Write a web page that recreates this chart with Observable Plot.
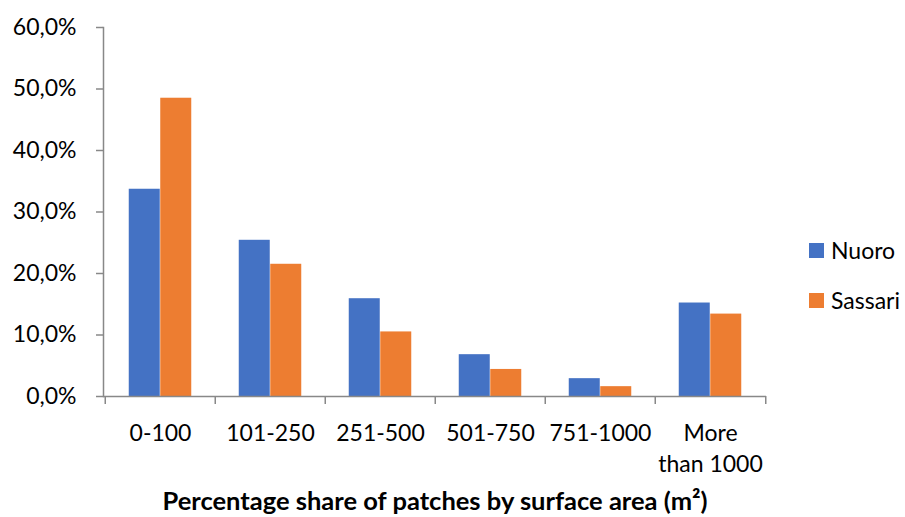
<!DOCTYPE html>
<html><head><meta charset="utf-8">
<script src="https://cdn.jsdelivr.net/npm/d3@7"></script>
<script src="https://cdn.jsdelivr.net/npm/@observablehq/plot@0.6"></script>
<style>
body{margin:0;background:#fff;}
#chart{position:relative;width:905px;height:517px;font-family:Lato,sans-serif;}
#legend{position:absolute;left:809px;top:236px;}
#legend .lg-swatch{margin-bottom:21px;}
#legend .lg-swatch svg{margin-right:7px !important;}
</style></head><body><div id="chart"><div id="legend"></div></div>
<script>
const categories = ["0-100","101-250","251-500","501-750","751-1000","More than 1000"];
const categoryLabels = ["0-100","101-250","251-500","501-750","751-1000","More\nthan 1000"];
const series = ["Nuoro","Sassari"];
const nuoro = [33.7,25.4,15.9,6.8,2.9,15.2];
const sassari = [48.5,21.5,10.5,4.4,1.6,13.4];
const yTicks = [0,10,20,30,40,50,60];
const xTitle = "Percentage share of patches by surface area (m²)";
const colors = ["#4472C4","#ED7D31"];

const nuoroRows = categories.map((c,i)=>({category:c, series:"Nuoro", value:nuoro[i]}));
const sassariRows = categories.map((c,i)=>({category:c, series:"Sassari", value:sassari[i]}));

const W = 905, H = 517, mL = 103, mR = 139, mT = 27, mB = 121;
const step = (W - mL - mR) / categories.length;
const barW = 31.5;
const axisColor = "#888888";
const fmt = d => d.toFixed(1).replace(".", ",") + "%";

const plot = Plot.plot({
  width: W, height: H,
  marginLeft: mL, marginRight: mR, marginTop: mT, marginBottom: mB,
  style: {fontFamily: "Lato, sans-serif", fontSize: "23px", color: "#000", background: "white", overflow: "visible"},
  x: {domain: categories, padding: 0, label: null},
  y: {domain: [0, 60], label: null},
  color: {domain: series, range: colors},
  marks: [
    Plot.barY(nuoroRows, {x: "category", y: "value", fill: "series", insetLeft: step/2 - barW, insetRight: step/2}),
    Plot.barY(sassariRows, {x: "category", y: "value", fill: "series", insetLeft: step/2, insetRight: step/2 - barW}),
    Plot.ruleY([0], {stroke: axisColor, strokeWidth: 1.5}),
    Plot.frame({anchor: "left", stroke: axisColor, strokeWidth: 1.5}),
    Plot.axisY({ticks: yTicks, tickSize: 7, tickPadding: 20, tickFormat: fmt, stroke: axisColor, strokeWidth: 1.5, fill: "#000", label: null}),
    Plot.axisX({tickSize: 0, tickPadding: 22, tickFormat: (d, i) => categoryLabels[categories.indexOf(d)], lineHeight: 1.35, fill: "#000", label: null}),
    Plot.axisX({tickSize: 8, tickFormat: () => "", dx: -step/2, stroke: axisColor, strokeWidth: 1.5, label: null}),
    Plot.axisX({ticks: [categories[categories.length-1]], tickSize: 8, tickFormat: () => "", dx: step/2, stroke: axisColor, strokeWidth: 1.5, label: null}),
    Plot.axisX({ticks: [], label: xTitle, labelAnchor: "center", labelArrow: false, labelOffset: 113, fontWeight: "bold", fontSize: 25.5, fill: "#000"})
  ]
});
document.getElementById("chart").prepend(plot);

const legend = Plot.legend({
  color: {domain: series, range: colors},
  legend: "swatches", columns: 1, swatchSize: 15, className: "lg",
  style: {fontFamily: "Lato, sans-serif", fontSize: "23px", color: "#000"}
});
document.getElementById("legend").appendChild(legend);
</script></body></html>
